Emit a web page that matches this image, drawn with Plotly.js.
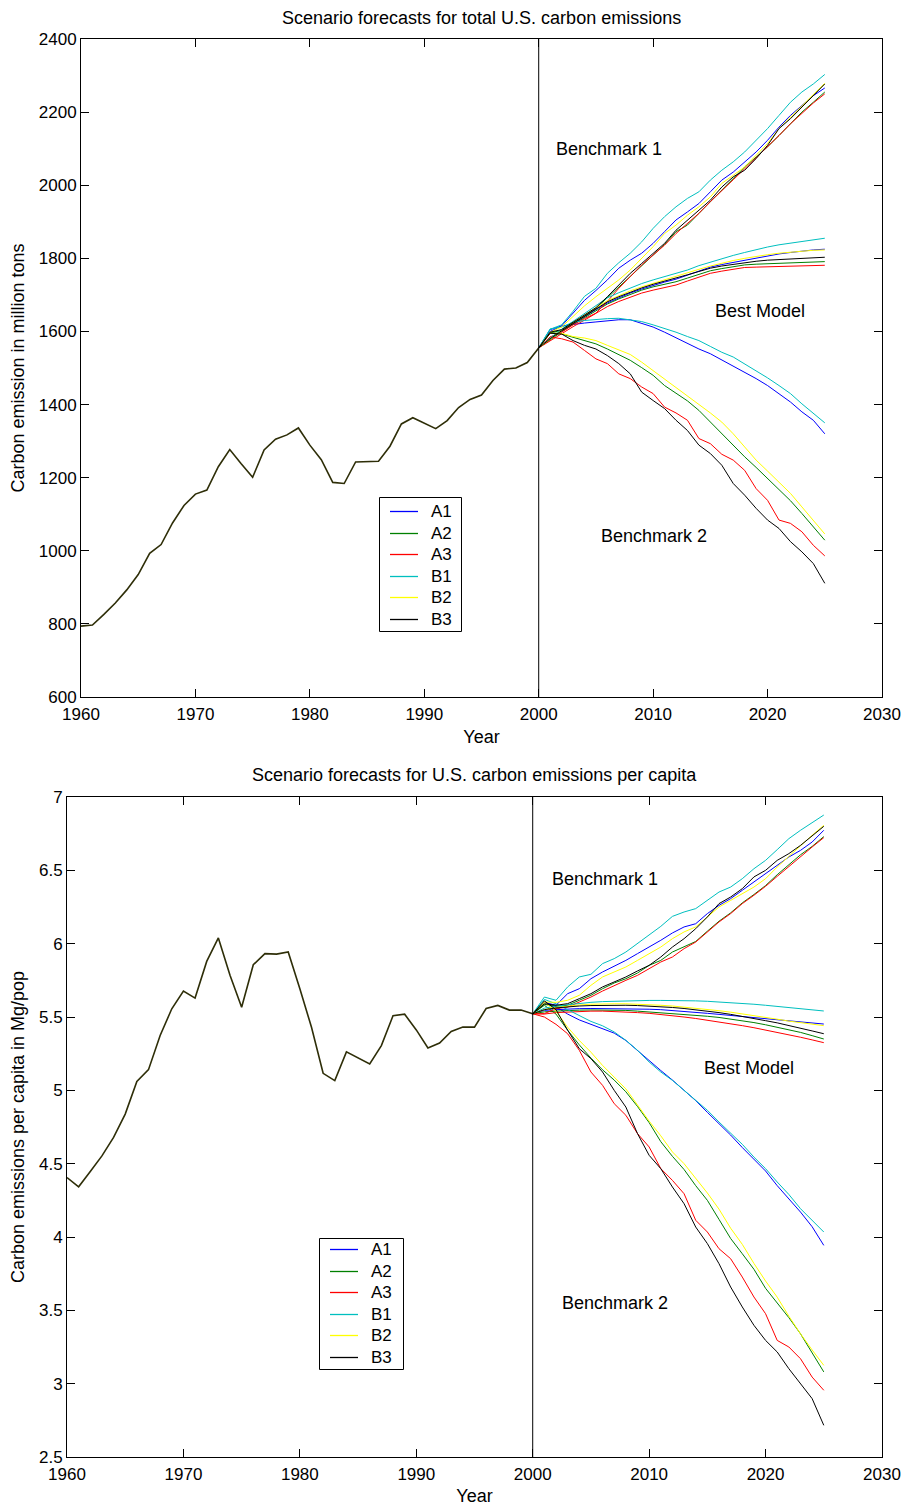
<!DOCTYPE html>
<html>
<head>
<meta charset="utf-8">
<script src="https://cdn.plot.ly/plotly-3.0.1.min.js"></script>
<style>html,body{margin:0;padding:0;background:#fff;}#chart{width:906px;height:1507px;}</style>
</head>
<body>
<div id="chart"></div>
<script>
// ---------------- DATA ----------------
const yearsHist = [1960,1961,1962,1963,1964,1965,1966,1967,1968,1969,1970,1971,1972,1973,1974,1975,1976,1977,1978,1979,1980,1981,1982,1983,1984,1985,1986,1987,1988,1989,1990,1991,1992,1993,1994,1995,1996,1997,1998,1999,2000];
const yearsFc = [2000,2001,2002,2003,2004,2005,2006,2007,2008,2009,2010,2011,2012,2013,2014,2015,2016,2017,2018,2019,2020,2021,2022,2023,2024,2025];
const scenarioNames = ['A1','A2','A3','B1','B2','B3'];

// Total U.S. carbon emissions (million tons)
const totalHist = [794,797,826,857,893,935,993,1017,1076,1124,1155,1166,1230,1277,1238,1201,1276,1305,1317,1336,1289,1249,1187,1184,1243,1244,1245,1286,1347,1364,1348,1334,1356,1392,1414,1426,1466,1497,1500,1515,1555];

// Benchmark 1
const totB1_A1 = [1555,1600,1615,1650,1685,1712,1741,1773,1795,1814,1841,1873,1905,1927,1950,1982,2014,2036,2064,2091,2123,2159,2191,2218,2245,2266];
const totB1_A2 = [1555,1596,1603,1622,1643,1663,1692,1722,1752,1780,1810,1838,1873,1891,1923,1955,1986,2018,2050,2077,2105,2136,2168,2200,2227,2255];
const totB1_A3 = [1555,1585,1598,1618,1635,1650,1682,1718,1750,1782,1809,1836,1868,1895,1923,1955,1986,2015,2045,2075,2105,2136,2168,2197,2225,2250];
const totB1_B1 = [1555,1606,1618,1655,1696,1718,1759,1788,1814,1845,1882,1914,1941,1964,1982,2014,2041,2064,2091,2123,2155,2191,2227,2255,2277,2303];
const totB1_B2 = [1555,1598,1612,1640,1670,1695,1718,1741,1768,1800,1832,1868,1891,1918,1941,1968,2005,2027,2050,2082,2114,2155,2186,2218,2250,2279];
const totB1_B3 = [1555,1598,1605,1625,1645,1665,1695,1727,1759,1786,1814,1841,1877,1905,1932,1959,1995,2023,2041,2073,2109,2155,2182,2214,2245,2277];
// Best model
const totBest_A1 = [1555,1580,1601,1621,1641,1660,1678,1692,1705,1716,1726,1735,1743,1754,1765,1776,1783,1789,1795,1802,1807,1812,1816,1820,1823,1825];
const totBest_A2 = [1555,1578,1599,1619,1638,1657,1675,1689,1702,1713,1722,1729,1736,1746,1756,1766,1772,1777,1782,1784,1785,1786,1788,1789,1790,1791];
const totBest_A3 = [1555,1575,1595,1613,1631,1650,1668,1682,1694,1705,1713,1721,1727,1738,1749,1759,1765,1770,1775,1776,1777,1777,1778,1779,1780,1781];
const totBest_B1 = [1555,1582,1606,1628,1650,1672,1692,1706,1719,1731,1741,1750,1759,1768,1780,1790,1799,1808,1816,1824,1831,1837,1842,1847,1851,1855];
const totBest_B2 = [1555,1580,1603,1624,1645,1665,1684,1698,1711,1722,1732,1742,1750,1760,1770,1779,1787,1794,1800,1806,1810,1814,1817,1820,1822,1823];
const totBest_B3 = [1555,1580,1602,1622,1642,1662,1681,1695,1708,1719,1729,1737,1745,1755,1764,1773,1779,1784,1788,1792,1795,1797,1799,1801,1802,1803];
// Benchmark 2
const totB2_A1 = [1555,1605,1615,1620,1623,1626,1630,1632,1632,1623,1612,1598,1582,1566,1552,1539,1522,1507,1489,1471,1452,1430,1407,1380,1357,1320];
const totB2_A2 = [1555,1597,1593,1584,1575,1566,1552,1537,1521,1501,1480,1452,1430,1410,1384,1352,1322,1289,1257,1228,1198,1167,1137,1102,1067,1029];
const totB2_A3 = [1555,1585,1580,1571,1548,1525,1512,1484,1471,1448,1430,1393,1377,1357,1307,1293,1264,1248,1220,1170,1138,1084,1075,1052,1015,986];
const totB2_B1 = [1555,1607,1612,1625,1630,1633,1635,1636,1632,1627,1618,1609,1598,1586,1575,1559,1543,1530,1511,1493,1473,1452,1430,1402,1377,1350];
const totB2_B2 = [1555,1595,1595,1586,1582,1575,1562,1550,1537,1516,1493,1471,1446,1425,1402,1377,1352,1320,1284,1248,1218,1188,1157,1120,1084,1046];
const totB2_B3 = [1555,1595,1593,1575,1562,1552,1534,1512,1484,1434,1411,1389,1357,1329,1289,1266,1234,1184,1152,1116,1084,1061,1025,997,965,911];

// U.S. carbon emissions per capita (Mg/pop)
const capHist = [4.405,4.342,4.446,4.553,4.679,4.838,5.061,5.141,5.374,5.556,5.677,5.629,5.879,6.039,5.784,5.567,5.856,5.932,5.929,5.943,5.692,5.430,5.116,5.066,5.262,5.221,5.180,5.305,5.508,5.519,5.412,5.289,5.323,5.401,5.431,5.431,5.558,5.579,5.547,5.547,5.522];

const capB1_A1 = [5.522,5.600,5.580,5.659,5.693,5.761,5.807,5.845,5.886,5.932,5.977,6.023,6.073,6.114,6.136,6.205,6.261,6.307,6.364,6.420,6.482,6.534,6.591,6.636,6.693,6.773];
const capB1_A2 = [5.522,5.586,5.573,5.580,5.614,5.648,5.693,5.732,5.761,5.800,5.852,5.886,5.943,5.977,6.015,6.085,6.153,6.210,6.278,6.335,6.396,6.470,6.538,6.606,6.663,6.730];
const capB1_A3 = [5.522,5.523,5.557,5.568,5.602,5.636,5.677,5.716,5.750,5.784,5.830,5.875,5.909,5.966,6.011,6.080,6.148,6.205,6.273,6.330,6.391,6.459,6.527,6.595,6.659,6.723];
const capB1_B1 = [5.522,5.636,5.614,5.705,5.773,5.791,5.864,5.898,5.943,6.000,6.057,6.118,6.186,6.216,6.239,6.295,6.352,6.386,6.443,6.511,6.568,6.641,6.716,6.773,6.823,6.877];
const capB1_B2 = [5.522,5.602,5.600,5.614,5.648,5.716,5.773,5.807,5.841,5.886,5.932,5.977,6.034,6.080,6.114,6.182,6.250,6.295,6.341,6.386,6.443,6.523,6.595,6.670,6.739,6.807];
const capB1_B3 = [5.522,5.590,5.580,5.591,5.625,5.659,5.705,5.739,5.773,5.814,5.852,5.909,5.977,6.034,6.102,6.182,6.273,6.318,6.375,6.455,6.500,6.568,6.614,6.670,6.732,6.800];

const capBest_A1 = [5.522,5.545,5.550,5.555,5.557,5.558,5.558,5.558,5.557,5.555,5.553,5.550,5.545,5.540,5.533,5.525,5.518,5.511,5.504,5.497,5.490,5.482,5.474,5.467,5.460,5.452];
const capBest_A2 = [5.522,5.535,5.540,5.545,5.547,5.548,5.548,5.547,5.545,5.540,5.535,5.530,5.525,5.519,5.512,5.505,5.497,5.487,5.475,5.462,5.447,5.431,5.414,5.395,5.373,5.350];
const capBest_A3 = [5.522,5.520,5.530,5.535,5.538,5.540,5.540,5.538,5.535,5.530,5.525,5.518,5.510,5.500,5.490,5.479,5.467,5.455,5.441,5.427,5.412,5.397,5.380,5.362,5.344,5.325];
const capBest_B1 = [5.522,5.560,5.575,5.585,5.595,5.600,5.605,5.608,5.610,5.612,5.613,5.613,5.613,5.612,5.610,5.607,5.603,5.598,5.593,5.587,5.580,5.573,5.565,5.558,5.550,5.541];
const capBest_B2 = [5.522,5.550,5.565,5.575,5.582,5.587,5.590,5.590,5.590,5.588,5.585,5.580,5.575,5.568,5.560,5.552,5.543,5.533,5.522,5.510,5.498,5.485,5.472,5.462,5.452,5.441];
const capBest_B3 = [5.522,5.550,5.562,5.570,5.575,5.578,5.580,5.580,5.580,5.578,5.575,5.570,5.565,5.558,5.550,5.540,5.530,5.518,5.505,5.490,5.475,5.460,5.443,5.425,5.405,5.386];

const capB2_A1 = [5.522,5.600,5.570,5.520,5.480,5.450,5.420,5.390,5.340,5.270,5.200,5.135,5.070,5.000,4.930,4.850,4.775,4.695,4.610,4.530,4.450,4.350,4.260,4.170,4.070,3.943];
const capB2_A2 = [5.522,5.580,5.520,5.410,5.310,5.220,5.140,5.070,4.990,4.890,4.780,4.650,4.550,4.460,4.350,4.250,4.120,3.990,3.886,3.780,3.650,3.550,3.450,3.340,3.210,3.080];
const capB2_A3 = [5.522,5.500,5.450,5.386,5.273,5.125,5.034,4.909,4.830,4.705,4.614,4.466,4.386,4.295,4.114,4.034,3.920,3.852,3.727,3.591,3.477,3.295,3.250,3.170,3.045,2.955];
const capB2_B1 = [5.522,5.620,5.590,5.550,5.510,5.470,5.440,5.398,5.341,5.273,5.193,5.125,5.068,5.000,4.932,4.864,4.784,4.705,4.632,4.545,4.466,4.375,4.290,4.193,4.114,4.034];
const capB2_B2 = [5.522,5.600,5.540,5.430,5.340,5.260,5.170,5.090,5.010,4.900,4.790,4.690,4.580,4.500,4.400,4.300,4.190,4.060,3.950,3.820,3.700,3.590,3.460,3.340,3.230,3.125];
const capB2_B3 = [5.522,5.610,5.550,5.410,5.284,5.216,5.125,5.000,4.886,4.705,4.557,4.466,4.341,4.227,4.068,3.955,3.818,3.659,3.523,3.398,3.295,3.216,3.102,3.000,2.898,2.716];

const textLabels = ['Benchmark 1','Best Model','Benchmark 2'];

// ---------------- STYLE / BUILD ----------------
const W = 906, H = 1507;
const FONT = 'Liberation Sans, Arial, Helvetica, sans-serif';
const FS = 18;      // titles, labels, annotations
const FS_TICK = 17; // tick labels
const FS_LEG = 17;  // legend entries
const colorOf = {A1:'#0000ff', A2:'#008000', A3:'#ff0000', B1:'#00bfbf', B2:'#ffff00', B3:'#000000'};

const totalSets = {
  A1:[totB1_A1,totBest_A1,totB2_A1], A2:[totB1_A2,totBest_A2,totB2_A2], A3:[totB1_A3,totBest_A3,totB2_A3],
  B1:[totB1_B1,totBest_B1,totB2_B1], B2:[totB1_B2,totBest_B2,totB2_B2], B3:[totB1_B3,totBest_B3,totB2_B3]
};
const capSets = {
  A1:[capB1_A1,capBest_A1,capB2_A1], A2:[capB1_A2,capBest_A2,capB2_A2], A3:[capB1_A3,capBest_A3,capB2_A3],
  B1:[capB1_B1,capBest_B1,capB2_B1], B2:[capB1_B2,capBest_B2,capB2_B2], B3:[capB1_B3,capBest_B3,capB2_B3]
};

const traces = [];
function addPanel(sets, hist, xa, ya) {
  scenarioNames.forEach(function(s) {
    sets[s].forEach(function(arr) {
      traces.push({
        type:'scatter', mode:'lines', x: yearsFc, y: arr, xaxis: xa, yaxis: ya,
        name: s, showlegend: false,
        line: {color: colorOf[s], width: 1}, hoverinfo: 'skip'
      });
    });
  });
  traces.push({
    type:'scatter', mode:'lines', x: yearsHist, y: hist, xaxis: xa, yaxis: ya,
    showlegend: false, line: {color: '#2e2e08', width: 1.6}, hoverinfo: 'skip'
  });
}
addPanel(totalSets, totalHist, 'x', 'y');
addPanel(capSets, capHist, 'x2', 'y2');

function fx(px) { return px / W; }
function fy(py) { return 1 - py / H; }

const axisCommon = {
  showline: true, linecolor: '#000', linewidth: 1, mirror: 'ticks',
  ticks: 'inside', ticklen: 8, tickcolor: '#000', tickwidth: 1,
  showgrid: false, zeroline: false, automargin: false,
  tickfont: {family: FONT, size: FS_TICK, color: '#000'}
};

const shapes = [
  {type:'line', xref:'x', yref:'y domain', x0:2000, x1:2000, y0:0, y1:1, line:{color:'#000', width:1}},
  {type:'line', xref:'x2', yref:'y2 domain', x0:2000, x1:2000, y0:0, y1:1, line:{color:'#000', width:1}}
];
const annotations = [
  {xref:'x domain', yref:'paper', x:0.5, y:fy(18), text:'Scenario forecasts for total U.S. carbon emissions', showarrow:false, xanchor:'center', yanchor:'middle', font:{family:FONT, size:FS}},
  {xref:'x2 domain', yref:'paper', x:0.5, y:fy(775), text:'Scenario forecasts for U.S. carbon emissions per capita', showarrow:false, xanchor:'center', yanchor:'middle', font:{family:FONT, size:FS}},
  {xref:'x', yref:'y', x:2006.1, y:2099, text:textLabels[0], showarrow:false, font:{family:FONT, size:FS}},
  {xref:'x', yref:'y', x:2019.3, y:1656, text:textLabels[1], showarrow:false, font:{family:FONT, size:FS}},
  {xref:'x', yref:'y', x:2010.1, y:1040, text:textLabels[2], showarrow:false, font:{family:FONT, size:FS}},
  {xref:'x2', yref:'y2', x:2006.2, y:6.44, text:textLabels[0], showarrow:false, font:{family:FONT, size:FS}},
  {xref:'x2', yref:'y2', x:2018.6, y:5.152, text:textLabels[1], showarrow:false, font:{family:FONT, size:FS}},
  {xref:'x2', yref:'y2', x:2007.1, y:3.55, text:textLabels[2], showarrow:false, font:{family:FONT, size:FS}}
];

// Legend boxes (drawn like the MATLAB legend): box, line samples, names
function addLegend(left, top, right, bottom, firstY, step) {
  shapes.push({type:'rect', xref:'paper', yref:'paper', x0:fx(left + 0.5), x1:fx(right + 0.5), y0:fy(bottom + 0.5), y1:fy(top + 0.5),
    line:{color:'#000', width:1}, fillcolor:'#fff', layer:'above'});
  scenarioNames.forEach(function(s, i) {
    const yy = Math.round(firstY + i * step) + 0.5;
    shapes.push({type:'line', xref:'paper', yref:'paper', x0:fx(left + 11), x1:fx(left + 39), y0:fy(yy), y1:fy(yy),
      line:{color: colorOf[s], width:1.3}, layer:'above'});
    annotations.push({xref:'paper', yref:'paper', x:fx(left + 50), y:fy(yy), text:s, showarrow:false,
      xanchor:'left', yanchor:'middle', font:{family:FONT, size:FS_LEG, color:'#000'}});
  });
}
addLegend(379, 497, 461, 631, 511, 21.6);
addLegend(319, 1238, 403, 1369, 1249, 21.5);

const layout = {
  width: W, height: H, margin: {l:0, r:0, t:0, b:0},
  paper_bgcolor: '#fff', plot_bgcolor: '#fff',
  font: {family: FONT, size: FS, color: '#000'},
  showlegend: false,
  xaxis: Object.assign({}, axisCommon, {
    domain: [fx(81), fx(882)], anchor: 'y', range: [1960, 2030], dtick: 10, tick0: 1960, ticklabelstandoff: 2,
    title: {text: 'Year', font: {family: FONT, size: FS}, standoff: 6}
  }),
  yaxis: Object.assign({}, axisCommon, {
    domain: [fy(697), fy(39)], anchor: 'x', range: [600, 2400], dtick: 200, tick0: 600,
    title: {text: 'Carbon emission in million tons', font: {family: FONT, size: FS}, standoff: 9}
  }),
  xaxis2: Object.assign({}, axisCommon, {
    domain: [fx(67), fx(882)], anchor: 'y2', range: [1960, 2030], dtick: 10, tick0: 1960, ticklabelstandoff: 2,
    title: {text: 'Year', font: {family: FONT, size: FS}, standoff: 5}
  }),
  yaxis2: Object.assign({}, axisCommon, {
    domain: [fy(1457), fy(797)], anchor: 'x2', range: [2.5, 7], dtick: 0.5, tick0: 2.5,
    title: {text: 'Carbon emissions per capita in Mg/pop', font: {family: FONT, size: FS}, standoff: 9}
  }),
  shapes: shapes,
  annotations: annotations
};

Plotly.newPlot('chart', traces, layout, {staticPlot: true, displayModeBar: false});
</script>
</body>
</html>
